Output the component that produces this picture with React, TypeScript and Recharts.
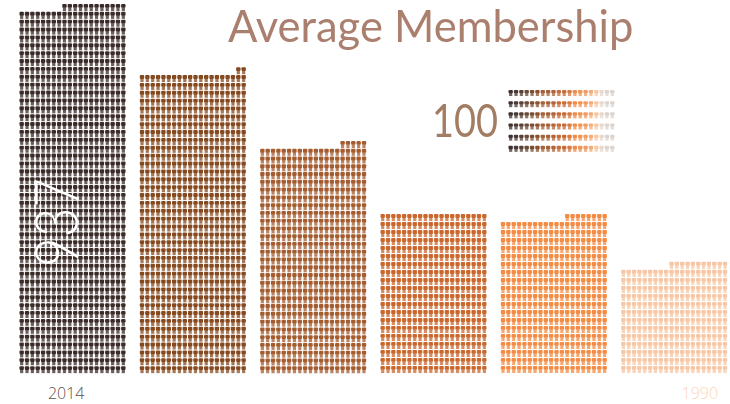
import { BarChart, Bar, XAxis, YAxis, Cell, LabelList } from 'recharts';

const years = ['2014', '2009', '2004', '2000', '1995', '1990'];
const members = [937, 777, 590, 405, 405, 284];
const icons = [932, 762, 585, 400, 388, 271];
const labels = ['937', '', '', '', '', ''];
const barColors = ['#3a2b28', '#85491f', '#a35c30', '#c9672c', '#f58a42', '#f8c6a2'];
const tickColors = ['#5f4f48', '', '', '', '', '#fbd5ba'];
const tickOffsets = [-6, 0, 0, 0, 0, 26];
const legendMembers = [100];
const legendIconCount = [120];
const legendColors = [
  '#3f302c', '#4a3a35', '#5a4238', '#6b4a38', '#7a4e33', '#8a5230', '#a5613a', '#a5613a',
  '#b0653a', '#c56c38', '#c56c38', '#d87a40', '#ef8c4a', '#ef9455', '#f09c60', '#f2ad7c',
  '#f8c8a2', '#ead8cc', '#dcd4ce', '#dcd4ce',
];

const PER_ROW = 20;

// one bar = a block of little member icons, rows fill from the bottom and the
// unfinished row sits to the right
function PictoBar({ x, y, width, height, payload, fill, colors, cellHeight, blur }: any) {
  const count = payload.icons;
  const pitchX = width / PER_ROW;
  const pitchY = height / Math.ceil(count / PER_ROW);
  const bottom = y + height;
  const cells = [];
  for (let i = 0; i < count; i++) {
    const row = Math.floor(i / PER_ROW);
    const col = PER_ROW - 1 - (i % PER_ROW);
    const cx = x + col * pitchX + pitchX / 2;
    const top = bottom - (row + 1) * pitchY;
    const color = colors ? colors[col] : fill;
    cells.push(
      <g key={i} fill={color}>
        <rect x={cx - 2.2} y={top} width={4.4} height={cellHeight * 0.55} rx={1} />
        <rect x={cx - 1.6} y={top + cellHeight * 0.5} width={3.2} height={cellHeight * 0.5} opacity={0.75} />
      </g>,
    );
  }
  return <g style={{ filter: `blur(${blur}px)` }}>{cells}</g>;
}

function YearTick({ x, y, index, payload }: any) {
  if (!tickColors[index]) return null;
  return (
    <text
      x={x + tickOffsets[index]}
      y={y + 19}
      textAnchor="middle"
      fontFamily="'Open Sans', sans-serif"
      fontWeight={300}
      fontSize={16}
      fill={tickColors[index]}
    >
      {payload.value}
    </text>
  );
}

function RotatedValue({ x, value }: any) {
  if (!value) return null;
  return (
    <text
      transform={`translate(${x + 59} 267) rotate(-90)`}
      fontFamily="Lato, sans-serif"
      fontWeight={300}
      fontSize={62}
      textLength={89}
      lengthAdjust="spacingAndGlyphs"
      fill="#ffffff"
    >
      {value}
    </text>
  );
}

const data = years.map((year, i) => ({ year, members: members[i], icons: icons[i], label: labels[i] }));

export default function App() {
  return (
    <div style={{ position: 'absolute', left: 0, top: 0, width: 730, height: 404, overflow: 'hidden', background: '#fff' }}>
      <BarChart
        width={734}
        height={404}
        data={data}
        barSize={107}
        margin={{ top: 4, right: 0, bottom: 0, left: 12 }}
      >
        <XAxis
          dataKey="year"
          interval={0}
          axisLine={false}
          tickLine={false}
          height={30}
          tickMargin={0}
          tick={<YearTick />}
        />
        <YAxis hide domain={[0, 937]} />
        <Bar
          dataKey="members"
          isAnimationActive={false}
          shape={(p: any) => <PictoBar {...p} cellHeight={7} blur={0.7} />}
        >
          {data.map((d, i) => (
            <Cell key={d.year} fill={barColors[i]} />
          ))}
          <LabelList dataKey="label" content={<RotatedValue />} />
        </Bar>
        <text
          x={228}
          y={42}
          fontFamily="Lato, sans-serif"
          fontSize={43.5}
          fill="#ab7f6e"
          style={{ filter: 'blur(0.7px)' }}
        >
          Average Membership
        </text>
        <text
          x={432}
          y={137}
          fontFamily="Lato, sans-serif"
          fontSize={46}
          textLength={66}
          lengthAdjust="spacingAndGlyphs"
          fill="#a37c64"
          style={{ filter: 'blur(0.6px)' }}
        >
          100
        </text>
      </BarChart>
      <div style={{ position: 'absolute', left: 508, top: 90, width: 107, height: 67 }}>
        <BarChart
          width={107}
          height={67}
          data={legendMembers.map((n, i) => ({ name: '100', members: n, icons: legendIconCount[i] }))}
          barCategoryGap={0}
          margin={{ top: 0, right: 0, bottom: 0, left: 0 }}
        >
          <XAxis dataKey="name" hide />
          <YAxis hide domain={[0, 100]} />
          <Bar
            dataKey="members"
            isAnimationActive={false}
            shape={(p: any) => <PictoBar {...p} colors={legendColors} cellHeight={6} blur={0.7} />}
          />
        </BarChart>
      </div>
    </div>
  );
}
